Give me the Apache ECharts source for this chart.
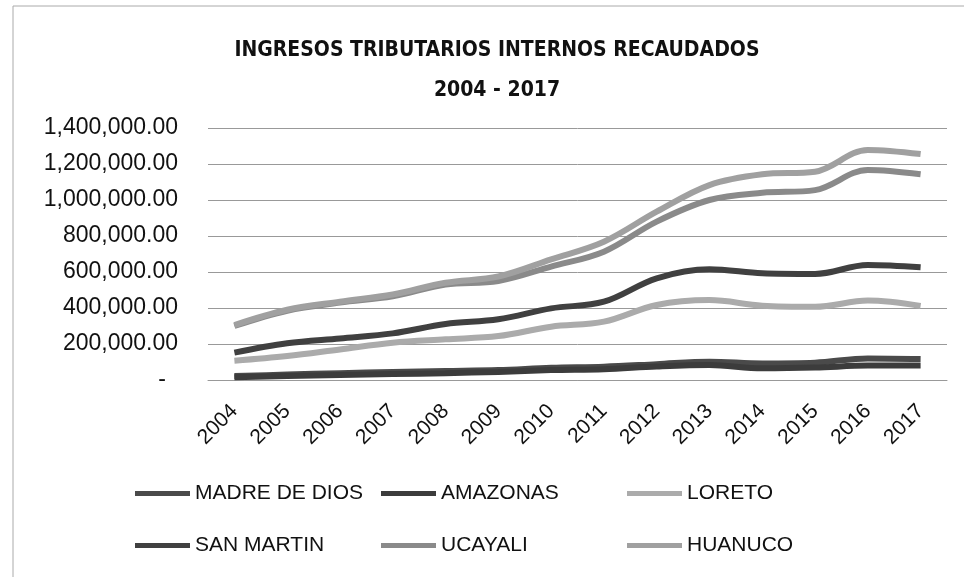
<!DOCTYPE html>
<html>
<head>
<meta charset="utf-8">
<title>Ingresos tributarios</title>
<script src="https://cdn.jsdelivr.net/npm/echarts@6/dist/echarts.min.js"></script>
<style>
  html, body { margin: 0; padding: 0; background: #fff; }
  #chart { width: 964px; height: 577px; }
</style>
</head>
<body>
<div id="chart"></div>
<script>
const years = ['2004', '2005', '2006', '2007', '2008', '2009', '2010', '2011', '2012', '2013', '2014', '2015', '2016', '2017']
const yTicks = [0, 200000, 400000, 600000, 800000, 1000000, 1200000, 1400000]

const madreDeDios = [22000, 30000, 38000, 45000, 50000, 55000, 68000, 74000, 88000, 102000, 92000, 96000, 120000, 117000]
const amazonas = [15000, 22000, 28000, 33000, 38000, 45000, 55000, 60000, 75000, 83000, 65000, 69000, 80000, 80000]
const loreto = [107000, 133000, 170000, 207000, 226000, 244000, 296000, 324000, 417000, 444000, 413000, 407000, 441000, 411000]
const sanMartin = [152000, 204000, 231000, 259000, 311000, 337000, 398000, 435000, 565000, 615000, 593000, 589000, 639000, 626000]
const ucayali = [300000, 385000, 430000, 465000, 530000, 550000, 630000, 713000, 880000, 1000000, 1040000, 1055000, 1167000, 1143000]
const huanuco = [305000, 390000, 435000, 475000, 540000, 575000, 670000, 768000, 935000, 1083000, 1143000, 1157000, 1278000, 1255000]

const font = 'Liberation Sans, Arial, sans-serif'
const chart = echarts.init(document.getElementById('chart'))

function line (name, data, color) {
  return {
    name: name,
    type: 'line',
    data: data,
    smooth: 0.35,
    symbol: 'none',
    lineStyle: { width: 6, color: color },
    itemStyle: { color: color }
  }
}

function legendCol (left, names) {
  return {
    orient: 'vertical',
    left: left,
    top: 478,
    itemGap: 31,
    itemWidth: 55,
    itemHeight: 5,
    icon: 'rect',
    data: names,
    textStyle: { fontSize: 21, fontFamily: font, color: '#111' }
  }
}

const option = {
  backgroundColor: '#fff',
  animation: false,
  title: {
    text: 'INGRESOS TRIBUTARIOS INTERNOS RECAUDADOS\n2004 - 2017',
    left: 492,
    top: 26,
    textAlign: 'center',
    textStyle: {
      fontSize: 21,
      fontWeight: 'bold',
      fontFamily: 'DejaVu Sans Condensed, sans-serif',
      color: '#111',
      lineHeight: 40
    }
  },
  graphic: [{
    type: 'rect',
    shape: { x: 13, y: 6, width: 990, height: 620 },
    style: { fill: 'none', stroke: '#aaa', lineWidth: 1 }
  }],
  legend: [
    legendCol(130, ['MADRE DE DIOS', 'SAN MARTIN']),
    legendCol(376, ['AMAZONAS', 'UCAYALI']),
    legendCol(622, ['LORETO', 'HUANUCO'])
  ],
  grid: { left: 208, right: 17, top: 128, bottom: 197 },
  xAxis: {
    type: 'category',
    data: years,
    boundaryGap: true,
    axisLine: { lineStyle: { color: '#999' } },
    axisTick: { show: false },
    axisLabel: {
      rotate: 45,
      margin: 28,
      fontSize: 21,
      fontFamily: font,
      color: '#111'
    }
  },
  yAxis: {
    type: 'value',
    min: yTicks[0],
    max: yTicks[yTicks.length - 1],
    interval: 200000,
    axisLine: { show: false },
    axisTick: { show: false },
    splitLine: { lineStyle: { color: '#999', width: 1 } },
    axisLabel: {
      margin: 30,
      fontSize: 23,
      fontFamily: font,
      color: '#111',
      formatter: function (v) {
        if (v === 0) return '{z|-}'
        return v.toLocaleString('en-US', { minimumFractionDigits: 2, maximumFractionDigits: 2 })
      },
      rich: {
        z: { fontSize: 23, fontFamily: font, color: '#111', padding: [0, 12, 0, 0] }
      }
    }
  },
  series: [
    line('MADRE DE DIOS', madreDeDios, '#4a4a4a'),
    line('AMAZONAS', amazonas, '#3c3c3c'),
    line('LORETO', loreto, '#ababab'),
    line('SAN MARTIN', sanMartin, '#404040'),
    line('UCAYALI', ucayali, '#8a8a8a'),
    line('HUANUCO', huanuco, '#a0a0a0')
  ]
}

chart.setOption(option)
</script>
</body>
</html>
